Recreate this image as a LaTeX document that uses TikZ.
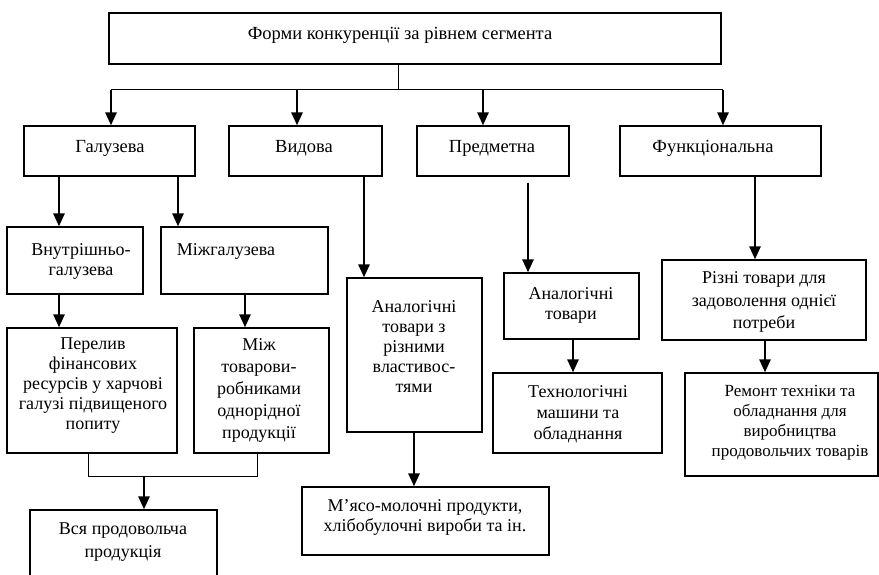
\documentclass[tikz,border=0pt]{standalone}
\usepackage{fontspec}
\setmainfont{Liberation Serif}
\usetikzlibrary{arrows.meta,fit}
\begin{document}
\begin{tikzpicture}[x=1pt,y=-1pt,
  box/.style={draw, line width=1.2pt, inner sep=0pt},
  txt/.style={align=center, inner sep=0pt, font=\fontsize{18}{20}\selectfont},
  hd/.style={align=center, inner sep=0pt, font=\fontsize{18.5}{21}\selectfont},
  thinln/.style={line width=1pt},
  arr/.style={line width=2.6pt, -{Triangle[length=13pt,width=11pt]}}]
\useasboundingbox (0,0) rectangle (879,575);
% boxes
\node[box, fit={(109,13) (721,64)}] (top) {};
\node[box, fit={(24,126) (195,176)}] (gal) {};
\node[box, fit={(229,126) (382,176)}] (vyd) {};
\node[box, fit={(417,126) (569,176)}] (pred) {};
\node[box, fit={(620,126) (821,176)}] (func) {};
\node[box, fit={(7,227) (143,294)}] (vnut) {};
\node[box, fit={(161,227) (328,294)}] (mizh) {};
\node[box, fit={(7,328) (177,453)}] (perel) {};
\node[box, fit={(194,328) (329,453)}] (mizhb) {};
\node[box, fit={(347,278) (482,432)}] (anone) {};
\node[box, fit={(302,487) (549,555)}] (meat) {};
\node[box, fit={(30,510) (217,590)}] (vsya) {};
\node[box, fit={(504,273) (639,339)}] (antwo) {};
\node[box, fit={(493,373) (662,453)}] (tech) {};
\node[box, fit={(662,260) (866,340)}] (rizni) {};
\node[box, fit={(685,373) (878,476)}] (remont) {};
% texts
\node[hd] (topT) at (400,35) {Форми конкуренції за рівнем сегмента};
\node[hd] (galT) at (110,148) {Галузева};
\node[hd] (vydT) at (304,148) {Видова};
\node[hd] (predT) at (492,148) {Предметна};
\node[hd] (funcT) at (713,148) {Функціональна};
\node[txt] (vnutT) at (81,261) {Внутрішньо-\\галузева};
\node[txt] (mizhT) at (226,251) {Міжгалузева};
\node[txt] (perelT) at (93,386) {Перелив\\фінансових\\ресурсів у харчові\\галузі підвищеного\\попиту};
\node[txt, font=\fontsize{18}{22}\selectfont] (mizhbT) at (259,390) {Між\\товарови-\\робниками\\однорідної\\продукції};
\node[txt] (anoneT) at (414,347) {Аналогічні\\товари з\\різними\\властивос-\\тями};
\node[txt] (meatT) at (425,517) {М’ясо-молочні продукти,\\хлібобулочні вироби та ін.};
\node[txt, font=\fontsize{18}{23}\selectfont] (vsyaT) at (123,542) {Вся продовольча\\продукція};
\node[txt] (antwoT) at (571,305) {Аналогічні\\товари};
\node[txt, font=\fontsize{18}{21}\selectfont] (techT) at (578,414) {Технологічні\\машини та\\обладнання};
\node[txt, font=\fontsize{18}{22.5}\selectfont] (rizniT) at (764,302) {Різні товари для\\задоволення однієї\\потреби};
\node[txt, font=\fontsize{17}{20}\selectfont] (remontT) at (790,423) {Ремонт техніки та\\обладнання для\\виробництва\\продовольчих товарів};
% connectors
\coordinate (hub) at (398,90);
\coordinate (ha) at (111,90);
\coordinate (hb) at (297,90);
\coordinate (hc) at (483,90);
\coordinate (hd) at (723,90);
\draw[thinln] (top.south -| hub) -- (hub);
\draw[thinln] (ha) -- (hd);
\draw[arr] (ha) -- (gal.north -| ha);
\draw[arr] (hb) -- (vyd.north -| hb);
\draw[arr] (hc) -- (pred.north -| hc);
\draw[arr] (hd) -- (func.north -| hd);
\draw[arr] (gal.south -| 59,0) -- (vnut.north -| 59,0);
\draw[arr] (gal.south -| 178,0) -- (mizh.north -| 178,0);
\draw[arr] (vyd.south -| 364,0) -- (anone.north -| 364,0);
\draw[arr, shorten <=6pt] (pred.south -| 528,0) -- (antwo.north -| 528,0);
\draw[arr] (func.south -| 755,0) -- (rizni.north -| 755,0);
\draw[arr] (vnut.south -| 59,0) -- (perel.north -| 59,0);
\draw[arr] (mizh.south -| 245,0) -- (mizhb.north -| 245,0);
\draw[arr] (anone.south -| 414,0) -- (meat.north -| 414,0);
\draw[arr] (antwo.south -| 573,0) -- (tech.north -| 573,0);
\draw[arr] (rizni.south -| 765,0) -- (remont.north -| 765,0);
\coordinate (jn) at (144,476);
\draw[thinln] (perel.south -| 88,0) -- (88,476) -- (257,476) -- (mizhb.south -| 257,0);
\draw[arr] (jn) -- (vsya.north -| jn);
\end{tikzpicture}
\end{document}
